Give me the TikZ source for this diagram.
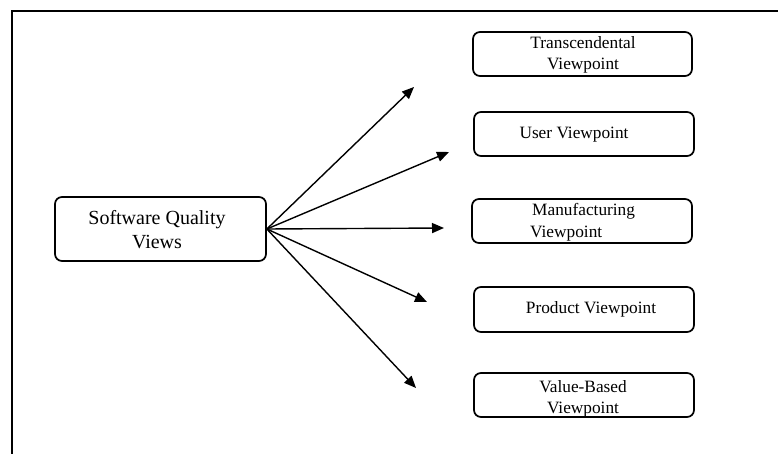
\documentclass[tikz,border=0pt]{standalone}
\usepackage{fontspec}
\setmainfont{Liberation Serif}
\usetikzlibrary{arrows.meta}
\tikzset{
  frameline/.style={line width=2pt},
  viewbox/.style={draw, line width=1.7pt, rounded corners=7pt, inner sep=0pt},
  bigtext/.style={font=\fontsize{20}{24}\selectfont, align=center, inner sep=0pt},
  smalltext/.style={font=\fontsize{17.3}{21}\selectfont, inner sep=0pt},
  fan/.style={line width=1.4pt, -{Triangle[length=12pt,width=10pt]}}
}
\begin{document}
\begin{tikzpicture}[x=1pt,y=-1pt]
  \useasboundingbox (0,0) rectangle (778,454);
  \fill[white] (0,0) rectangle (778,454);
  \clip (0,0) rectangle (778,454);
  % outer frame, running off the right and bottom edges
  \draw[frameline] (12,11) rectangle (800,480);

  % central box
  \node[viewbox, minimum width=211pt, minimum height=64pt] (sq) at (160.5,229) {};
  \node[bigtext, anchor=base] (sqt) at (157,248) {Software Quality\\Views};

  % viewpoint boxes
  \node[viewbox, minimum width=219pt, minimum height=44pt] (tv) at (582.5,54) {};
  \node[viewbox, minimum width=220pt, minimum height=44pt] (uv) at (584,134) {};
  \node[viewbox, minimum width=220pt, minimum height=44pt] (mv) at (582,221) {};
  \node[viewbox, minimum width=220pt, minimum height=45pt] (pv) at (584,309.5) {};
  \node[viewbox, minimum width=220pt, minimum height=44pt] (vv) at (584,395) {};

  \node[smalltext, align=center, anchor=base] (tvt) at (583,70) {Transcendental\\Viewpoint};
  \node[smalltext, anchor=base] (uvt) at (574,139) {User Viewpoint};
  \node[smalltext, align=left, anchor=base west] (mvt) at (530,237) {\hspace{2pt}Manufacturing\\Viewpoint};
  \node[smalltext, anchor=base] (pvt) at (591,313) {Product Viewpoint};
  \node[smalltext, align=center, anchor=base] (vvt) at (583,413) {Value-Based\\Viewpoint};

  % arrow ends
  \coordinate (a1) at (414,87);
  \coordinate (a2) at (449,152);
  \coordinate (a3) at (444,228);
  \coordinate (a4) at (427,302);
  \coordinate (a5) at (416,388);

  \foreach \t in {a1,a2,a3,a4,a5}
    \draw[fan] (sq.east) -- (\t);
\end{tikzpicture}
\end{document}
